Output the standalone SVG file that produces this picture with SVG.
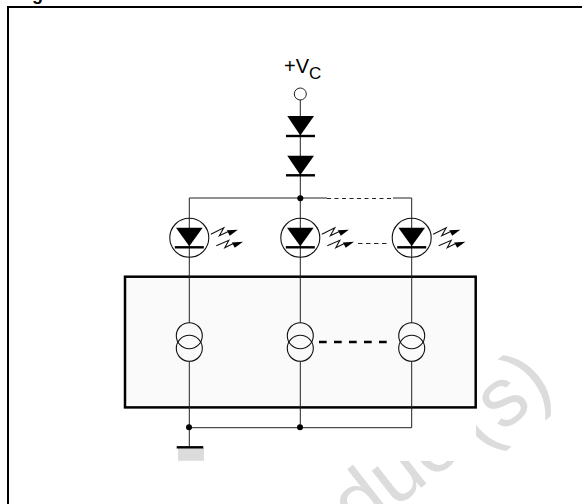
<svg xmlns="http://www.w3.org/2000/svg" width="582" height="504" viewBox="0 0 582 504">
<defs>
<style>
.w{fill:none;stroke:#222;stroke-width:1}
.k{fill:none;stroke:#111;stroke-width:1.1}
.bar{stroke:#000;stroke-width:2.4;fill:none}
.f{fill:#000}
.wm{font-family:"Liberation Sans",Arial,sans-serif;font-size:83px;fill:#dcdcdc}
.t{font-family:"Liberation Sans",Arial,sans-serif;fill:#000}
</style>
<g id="led">
<circle cx="0" cy="0" r="19.500" class="k"/>
<polygon points="-13.300,-10 13.300,-10 0,8.500" class="f"/>
<path d="M-14.500 9.500H14.500" class="bar"/>
</g>
<g id="rays">
<path d="M21.500 -3.500L34.500 -10 30 -2 38.500 -6" class="k"/>
<polygon points="37.500,-7.500 48.500,-8 40.500,-2" class="f"/>
<path d="M27 8L39.500 2.500 35.500 10 43.500 6" class="k"/>
<polygon points="42.500,4.700 53.700,4 45.500,10" class="f"/>
</g>
<g id="src">
<circle cx="0" cy="-6.300" r="13" class="k"/>
<circle cx="0" cy="6.300" r="13" class="k"/>
</g>
</defs>
<g id="watermark">
<text class="wm" transform="translate(358,537) rotate(-38)">duc</text>
<text class="wm" text-anchor="middle" transform="translate(518,420) rotate(-38)">(s)</text>
<rect x="8" y="8" width="468" height="453" fill="#fff"/>
</g>
<text id="title" class="t" x="32" y="-0.500" font-size="18" font-weight="bold">g</text>
<path id="frame" d="M8 504V7H582" fill="none" stroke="#000" stroke-width="2"/>
<g id="block"><rect x="125" y="276.700" width="350.700" height="130.700" fill="#fafafa" stroke="#000" stroke-width="2.500"/></g>
<g id="connectors">
<path class="w" d="M300.300 99V323M189.300 198H327M393 198H411.700V323M189.300 198V323M189.300 361V448M300.300 361V428M411.700 361V427.700M189.300 427.700H411.700"/>
<path class="w" d="M327 198.500H393" stroke-dasharray="4 3.500"/>
<path class="w" d="M358 243.500H387" stroke-dasharray="4.500 3.500"/>
<path d="M386.700 342H398" stroke="#fff" stroke-width="2" fill="none"/>
<path d="M319 342H387" stroke="#000" stroke-width="2.500" fill="none" stroke-dasharray="7.700 7.300"/>
</g>
<g id="vc"><circle cx="300.300" cy="94" r="6" fill="#fff" stroke="#222" stroke-width="1"/>
<text class="t" x="284" y="72.700" font-size="20">+V<tspan font-size="17" dy="6.500">C</tspan></text></g>
<g id="d1"><polygon points="287.300,116 314,116 300.300,135.500" class="f"/><path d="M286 136H315" class="bar"/></g>
<g id="d2"><polygon points="287.300,155.700 314,155.700 300.300,175" class="f"/><path d="M286 175.300H315" class="bar"/></g>
<g id="j1"><circle cx="300.300" cy="198.200" r="3" class="f"/></g>
<g id="led1"><use href="#led" x="189.300" y="237.800"/><use href="#rays" x="189.300" y="237.800"/></g>
<g id="led2"><use href="#led" x="300.300" y="237.800"/><use href="#rays" x="300.300" y="237.800"/></g>
<g id="led3"><use href="#led" x="411.700" y="237.800"/><use href="#rays" x="411.700" y="237.800"/></g>
<g id="s1"><use href="#src" x="189.300" y="342"/></g>
<g id="s2"><use href="#src" x="300.300" y="342"/></g>
<g id="s3"><use href="#src" x="411.700" y="342"/></g>
<g id="j2"><circle cx="189" cy="427.300" r="3" class="f"/></g>
<g id="j3"><circle cx="300" cy="427.300" r="3" class="f"/></g>
<g id="gnd"><rect x="178" y="448" width="26" height="12.800" fill="#dcdcdc"/><path d="M176.700 447.300H203.300" class="bar"/></g>
</svg>
